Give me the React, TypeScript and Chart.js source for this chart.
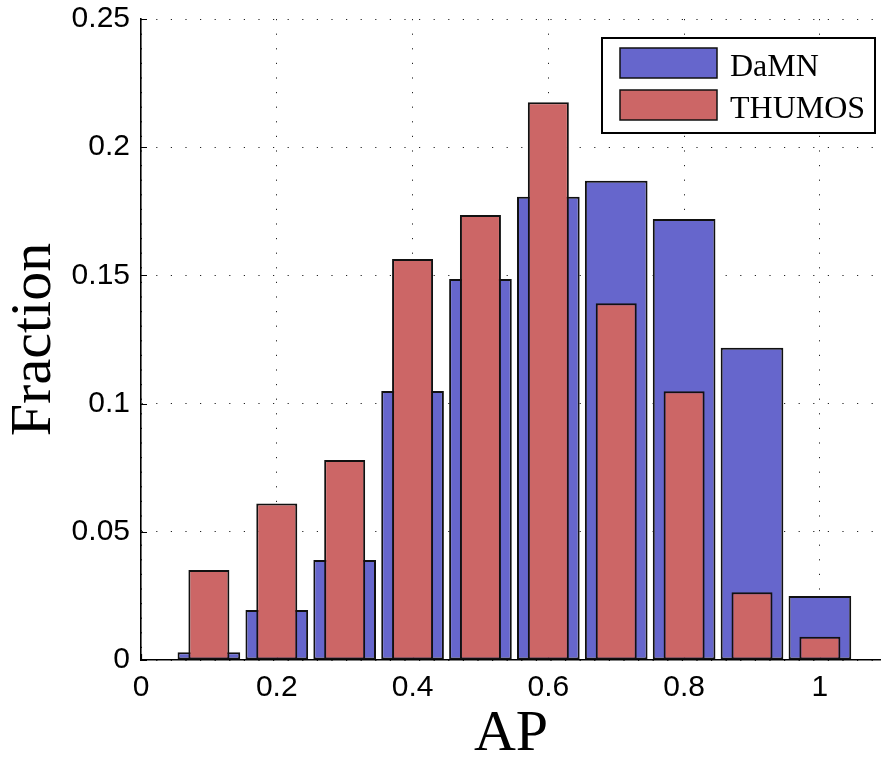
import { useEffect, useRef } from 'react';
import { Chart, registerables } from 'chart.js';

Chart.register(...registerables);

// ---- data ----
const binCenters = [0.1, 0.2, 0.3, 0.4, 0.5, 0.6, 0.7, 0.8, 0.9, 1.0];
const damnValues = [0.003, 0.0195, 0.039, 0.1049, 0.1486, 0.1807, 0.1869, 0.172, 0.1218, 0.025];
const thumosValues = [0.0351, 0.061, 0.078, 0.1564, 0.1736, 0.2175, 0.1391, 0.1048, 0.0264, 0.0091];
const seriesLabels = ['DaMN', 'THUMOS'];
const xTicks = [0, 0.2, 0.4, 0.6, 0.8, 1];
const yTicks = [0, 0.05, 0.1, 0.15, 0.2, 0.25];
const xLabel = 'AP';
const yLabel = 'Fraction';

const BLUE = '#6666cc';
const RED = '#cc6666';

const fmt = (v: number) => String(Number(v.toFixed(2)));

const inwardTicks = {
  id: 'inwardTicks',
  beforeDatasetsDraw(chart: any) {
    const { ctx, chartArea, scales } = chart;
    ctx.save();
    ctx.strokeStyle = '#000';
    ctx.lineWidth = 1.2;
    ctx.beginPath();
    for (const v of yTicks) {
      const y = Math.round(scales.y.getPixelForValue(v)) + 0.5;
      ctx.moveTo(chartArea.left, y);
      ctx.lineTo(chartArea.left + 6, y);
    }
    for (const v of xTicks) {
      const x = Math.round(scales.x.getPixelForValue(v)) + 0.5;
      ctx.moveTo(x, chartArea.bottom);
      ctx.lineTo(x, chartArea.bottom - 6);
    }
    ctx.stroke();
    ctx.restore();
  },
};

const boxLegend = {
  id: 'boxLegend',
  afterDraw(chart: any) {
    const { ctx, chartArea } = chart;
    const right = chartArea.right - 6;
    const top = chartArea.top + 19;
    const w = 273;
    const h = 95;
    const left = right - w;
    ctx.save();
    ctx.fillStyle = '#fff';
    ctx.fillRect(left, top, w, h);
    ctx.strokeStyle = '#000';
    ctx.lineWidth = 2;
    ctx.strokeRect(left, top, w, h);
    const items = [
      { label: chart.data.datasets[1].label, color: BLUE },
      { label: chart.data.datasets[0].label, color: RED },
    ];
    items.forEach((it, i) => {
      const py = top + 10 + i * 42;
      ctx.fillStyle = it.color;
      ctx.fillRect(left + 18, py, 97, 30);
      ctx.lineWidth = 1.5;
      ctx.strokeStyle = '#111';
      ctx.strokeRect(left + 18, py, 97, 30);
      ctx.fillStyle = '#000';
      ctx.font = '32px "Liberation Serif", "Times New Roman", serif';
      ctx.textAlign = 'left';
      ctx.textBaseline = 'alphabetic';
      ctx.fillText(it.label, left + 128, py + 28);
    });
    ctx.restore();
  },
};

export default function App() {
  const ref = useRef<HTMLCanvasElement | null>(null);

  useEffect(() => {
    if (!ref.current) return;
    const tickFont = { family: '"Liberation Sans", Arial, sans-serif', size: 30 };
    const titleFont = { family: '"Liberation Serif", "Times New Roman", serif', size: 58, lineHeight: 0.8 };
    const gridCommon = {
      color: '#222',
      lineWidth: 1,
      drawTicks: false,
      offset: false,
    };
    const chart = new Chart(ref.current, {
      type: 'bar',
      data: {
        datasets: [
          {
            label: seriesLabels[1],
            data: binCenters.map((x, i) => ({ x, y: thumosValues[i] })),
            backgroundColor: RED,
            borderColor: '#111',
            borderWidth: 2,
            borderSkipped: false,
            grouped: false,
            categoryPercentage: 1,
            barPercentage: 0.604,
            order: 1,
          },
          {
            label: seriesLabels[0],
            data: binCenters.map((x, i) => ({ x, y: damnValues[i] })),
            backgroundColor: BLUE,
            borderColor: '#111',
            borderWidth: 2,
            borderSkipped: false,
            grouped: false,
            categoryPercentage: 1,
            barPercentage: 0.923,
            order: 2,
          },
        ],
      } as any,
      options: {
        animation: false,
        responsive: false,
        layout: { padding: { top: 19, right: 0, left: 0, bottom: 0 } },
        plugins: {
          legend: { display: false },
          tooltip: { enabled: false },
        },
        scales: {
          x: {
            type: 'linear',
            min: 0,
            max: 1.09,
            offset: false,
            grid: gridCommon,
            border: { display: true, color: '#000', width: 1.6, dash: [1.2, 13.4] },
            afterBuildTicks: (s: any) => {
              s.ticks = xTicks.map((v) => ({ value: v }));
            },
            afterFit: (s: any) => {
              s.height = 99;
              s.paddingLeft = 0;
              s.paddingRight = 0;
            },
            ticks: {
              font: tickFont,
              color: '#000',
              padding: 10,
              maxRotation: 0,
              callback: (v: any) => fmt(Number(v)),
            },
            title: {
              display: true,
              text: xLabel,
              color: '#000',
              font: titleFont,
              padding: { top: 0, bottom: 1 },
            },
          },
          y: {
            type: 'linear',
            min: 0,
            max: 0.25,
            grid: gridCommon,
            border: { display: true, color: '#000', width: 1.6, dash: [1.2, 13.4] },
            afterBuildTicks: (s: any) => {
              s.ticks = yTicks.map((v) => ({ value: v }));
            },
            afterFit: (s: any) => {
              s.width = 141;
              s.paddingTop = 0;
              s.paddingBottom = 0;
            },
            ticks: {
              font: tickFont,
              color: '#000',
              padding: 11,
              callback: (v: any) => fmt(Number(v)),
            },
            title: {
              display: true,
              text: yLabel,
              color: '#000',
              font: titleFont,
              padding: { top: 12, bottom: 0 },
            },
          },
        },
      } as any,
      plugins: [inwardTicks, boxLegend],
    });
    return () => chart.destroy();
  }, []);

  return (
    <div style={{ position: 'absolute', left: 0, top: 0, width: 881, height: 759, background: '#fff' }}>
      <canvas ref={ref} width={881} height={759} style={{ display: 'block' }} />
    </div>
  );
}
